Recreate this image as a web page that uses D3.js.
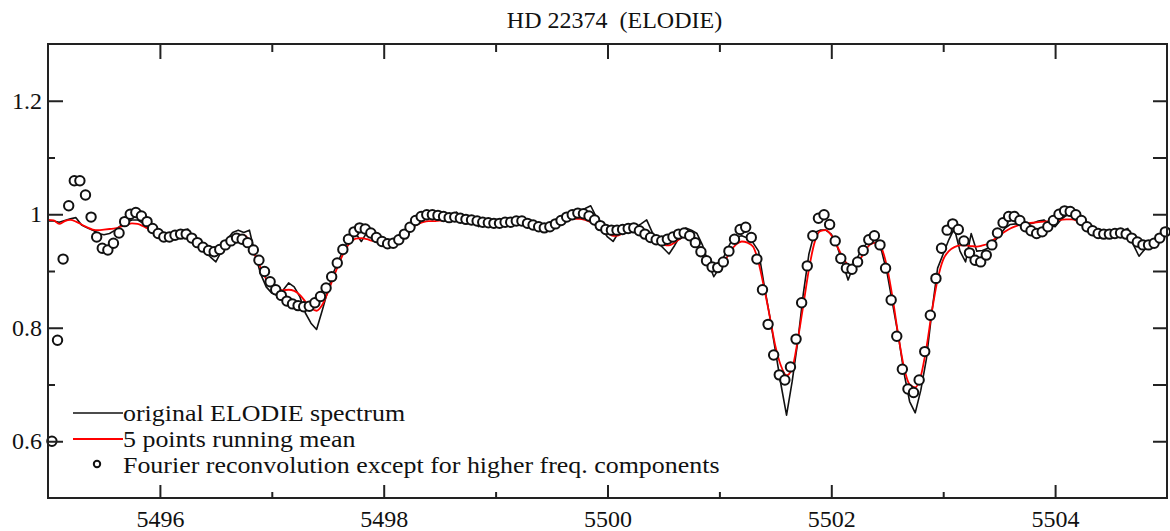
<!DOCTYPE html>
<html>
<head>
<meta charset="utf-8">
<script src="https://cdn.jsdelivr.net/npm/d3@7"></script>
<style>
  html, body { margin: 0; padding: 0; background: #fff; }
  svg text { font-family: "Liberation Serif", "Times New Roman", serif; fill: #111; }
</style>
</head>
<body>
<div id="chart"></div>
<script>
// spectrum sampled every 0.05 A
const lineStart = 5495.0;
const circleStart = 5495.035;
const step = 0.05;

// original ELODIE spectrum
const originalFlux = [
  0.988,0.988,0.986,0.989,0.992,0.994,0.981,0.976,0.972,0.966,
  0.964,0.966,0.972,0.980,0.986,0.990,0.990,0.984,0.976,0.968,
  0.964,0.962,0.962,0.964,0.968,0.974,0.955,0.945,0.935,0.925,
  0.916,0.935,0.955,0.968,0.972,0.968,0.972,0.930,0.895,0.872,
  0.861,0.857,0.866,0.879,0.872,0.855,0.826,0.808,0.797,0.830,
  0.865,0.897,0.920,0.942,0.958,0.966,0.952,0.968,0.962,0.955,
  0.950,0.948,0.951,0.958,0.969,0.981,0.991,0.997,0.998,0.998,
  0.997,0.995,0.994,1.004,0.992,0.990,0.988,0.978,0.986,0.984,
  0.984,0.985,0.986,0.990,0.988,0.986,0.982,0.979,0.976,0.977,
  0.981,0.987,0.993,0.998,1.001,1.003,1.010,1.015,0.995,0.975,
  0.960,0.952,0.968,0.973,0.976,0.977,0.983,0.990,0.968,0.950,
  0.940,0.930,0.945,0.962,0.976,0.972,0.966,0.945,0.915,0.890,
  0.905,0.930,0.950,0.960,0.962,0.958,0.950,0.935,0.875,0.820,
  0.760,0.700,0.646,0.705,0.775,0.860,0.930,0.968,0.972,0.972,
  0.965,0.945,0.915,0.884,0.910,0.930,0.945,0.955,0.955,0.935,
  0.895,0.840,0.785,0.720,0.670,0.650,0.690,0.745,0.830,0.905,
  0.930,0.955,0.975,0.935,0.916,0.966,0.935,0.936,0.940,0.950,
  0.962,0.975,0.982,0.983,0.983,0.982,0.984,0.988,0.990,0.982,
  0.978,0.990,0.998,1.000,0.993,0.984,0.976,0.970,0.967,0.966,
  0.966,0.967,0.970,0.975,0.946,0.926,0.938,0.948,0.955,0.965,0.976
];

// 5 points running mean
const meanFlux = [
  0.990,0.989,0.983,0.988,0.990,0.987,0.982,0.977,0.973,0.972,
  0.973,0.974,0.975,0.978,0.981,0.984,0.983,0.979,0.974,0.970,
  0.966,0.962,0.960,0.961,0.963,0.961,0.954,0.946,0.937,0.930,
  0.930,0.940,0.951,0.959,0.964,0.963,0.953,0.928,0.906,0.886,
  0.874,0.868,0.866,0.867,0.865,0.858,0.846,0.835,0.830,0.840,
  0.862,0.888,0.913,0.935,0.950,0.957,0.958,0.956,0.953,0.951,
  0.949,0.950,0.954,0.960,0.968,0.976,0.982,0.986,0.988,0.988,
  0.989,0.989,0.989,0.989,0.989,0.988,0.987,0.986,0.985,0.985,
  0.985,0.985,0.985,0.985,0.985,0.984,0.982,0.980,0.979,0.979,
  0.981,0.984,0.987,0.990,0.992,0.992,0.990,0.986,0.980,0.975,
  0.968,0.962,0.963,0.968,0.973,0.974,0.972,0.968,0.962,0.955,
  0.947,0.945,0.950,0.957,0.962,0.957,0.947,0.930,0.913,0.901,
  0.903,0.918,0.935,0.947,0.952,0.950,0.943,0.915,0.870,0.820,
  0.768,0.733,0.716,0.728,0.778,0.840,0.903,0.950,0.970,0.972,
  0.963,0.945,0.925,0.911,0.908,0.918,0.935,0.947,0.950,0.940,
  0.905,0.850,0.785,0.730,0.700,0.695,0.715,0.765,0.830,0.885,
  0.920,0.935,0.942,0.945,0.945,0.944,0.943,0.945,0.948,0.955,
  0.962,0.969,0.975,0.979,0.982,0.984,0.985,0.986,0.987,0.988,
  0.989,0.990,0.991,0.991,0.988,0.983,0.977,0.972,0.968,0.967,
  0.967,0.967,0.966,0.962,0.957,0.952,0.950,0.952,0.957,0.964,0.972
];

// Fourier reconvolution except for higher freq. components
const fourierFlux = [
  0.600,0.778,0.921,1.015,1.059,1.059,1.034,0.995,0.960,0.940,
  0.937,0.949,0.967,0.987,1.000,1.003,0.997,0.987,0.975,0.966,
  0.960,0.960,0.963,0.965,0.965,0.958,0.950,0.942,0.936,0.934,
  0.938,0.946,0.953,0.958,0.956,0.950,0.937,0.919,0.899,0.881,
  0.867,0.857,0.847,0.842,0.839,0.837,0.838,0.844,0.855,0.870,
  0.890,0.914,0.938,0.956,0.969,0.976,0.974,0.967,0.959,0.952,
  0.948,0.949,0.955,0.965,0.977,0.989,0.996,0.999,0.999,0.998,
  0.996,0.994,0.995,0.993,0.991,0.990,0.988,0.986,0.985,0.984,
  0.984,0.986,0.986,0.988,0.988,0.984,0.981,0.978,0.976,0.978,
  0.983,0.989,0.995,0.999,1.002,1.001,0.997,0.990,0.980,0.973,
  0.972,0.972,0.973,0.975,0.976,0.971,0.965,0.959,0.955,0.953,
  0.956,0.960,0.965,0.967,0.962,0.950,0.934,0.918,0.907,0.906,
  0.916,0.935,0.956,0.973,0.977,0.959,0.921,0.867,0.806,0.752,
  0.717,0.708,0.731,0.780,0.844,0.909,0.962,0.993,0.999,0.982,
  0.953,0.922,0.905,0.903,0.916,0.936,0.955,0.962,0.946,0.905,
  0.849,0.785,0.727,0.692,0.686,0.708,0.758,0.822,0.887,0.940,
  0.972,0.983,0.973,0.953,0.932,0.919,0.916,0.928,0.946,0.967,
  0.985,0.996,0.996,0.989,0.978,0.971,0.966,0.969,0.978,0.989,
  1.000,1.006,1.005,0.999,0.989,0.978,0.971,0.966,0.965,0.965,
  0.966,0.967,0.965,0.958,0.951,0.946,0.946,0.949,0.958,0.969
];

const xMajor = [5496, 5498, 5500, 5502, 5504];
const xMinor = [5497, 5499, 5501, 5503];
const yMajor = [0.6, 0.8, 1, 1.2];
const yMinor = [0.7, 0.9, 1.1];
const yRight = [0.6, 0.7, 0.8, 0.9, 1, 1.1, 1.2];

const title = "HD 22374  (ELODIE)";
const legendLabels = [
  "original ELODIE spectrum",
  "5 points running mean",
  "Fourier reconvolution except for higher freq. components"
];

const width = 1170, height = 531;
const margin = { top: 44, right: 3, bottom: 33, left: 48 };

const svg = d3.select("#chart").append("svg")
  .attr("width", width)
  .attr("height", height);

const x = d3.scaleLinear().domain([5495, 5505]).range([margin.left, width - margin.right]);
const y = d3.scaleLinear().domain([0.5, 1.3]).range([height - margin.bottom, margin.top]);

const lineData = (vals, start) => vals.map((v, i) => ({ w: start + i * step, f: v }));

const line = d3.line().x(d => x(d.w)).y(d => y(d.f));

// clip lines to plot box
svg.append("clipPath").attr("id", "plot")
  .append("rect")
  .attr("x", x(5495)).attr("y", y(1.3))
  .attr("width", x(5505) - x(5495)).attr("height", y(0.5) - y(1.3));

const plot = svg.append("g");

plot.append("path")
  .datum(lineData(originalFlux, lineStart))
  .attr("clip-path", "url(#plot)")
  .attr("fill", "none")
  .attr("stroke", "#111")
  .attr("stroke-width", 1.6)
  .attr("stroke-linejoin", "round")
  .attr("d", line);

plot.append("path")
  .datum(lineData(meanFlux, lineStart))
  .attr("clip-path", "url(#plot)")
  .attr("fill", "none")
  .attr("stroke", "#f00")
  .attr("stroke-width", 1.8)
  .attr("d", line.curve(d3.curveMonotoneX));

plot.selectAll("circle.fourier")
  .data(lineData(fourierFlux, circleStart))
  .enter()
  .append("circle")
  .attr("class", "fourier")
  .attr("cx", d => x(d.w))
  .attr("cy", d => y(d.f))
  .attr("r", 4.7)
  .attr("fill", "#fff")
  .attr("stroke", "#111")
  .attr("stroke-width", 2);

// axes
const axisStyle = g => {
  g.select(".domain").remove();
  g.selectAll(".tick line").attr("stroke", "#222").attr("stroke-width", 2);
  g.selectAll(".tick text").attr("fill", "#111").style("font-size", "24px")
    .style("font-family", "'Liberation Serif', 'Times New Roman', serif");
};

const bottom = height - margin.bottom;
svg.append("g").attr("transform", `translate(0,${bottom})`)
  .call(d3.axisBottom(x).tickValues(xMajor).tickSize(-13).tickPadding(12).tickFormat(d3.format("d")))
  .call(axisStyle);
svg.append("g").attr("transform", `translate(0,${bottom})`)
  .call(d3.axisBottom(x).tickValues(xMinor).tickSize(-6).tickFormat(""))
  .call(axisStyle);

svg.append("g").attr("transform", `translate(0,${margin.top})`)
  .call(d3.axisTop(x).tickValues(xMajor).tickSize(-15).tickFormat(""))
  .call(axisStyle);
svg.append("g").attr("transform", `translate(0,${margin.top})`)
  .call(d3.axisTop(x).tickValues(xMinor).tickSize(-8).tickFormat(""))
  .call(axisStyle);

svg.append("g").attr("transform", `translate(${margin.left},0)`)
  .call(d3.axisLeft(y).tickValues(yMajor).tickSize(-15).tickPadding(6).tickFormat(d => String(d)))
  .call(axisStyle);
svg.append("g").attr("transform", `translate(${margin.left},0)`)
  .call(d3.axisLeft(y).tickValues(yMinor).tickSize(-7).tickFormat(""))
  .call(axisStyle);

svg.append("g").attr("transform", `translate(${width - margin.right},0)`)
  .call(d3.axisRight(y).tickValues(yRight).tickSize(-14).tickFormat(""))
  .call(axisStyle);

// frame
svg.append("rect")
  .attr("x", x(5495)).attr("y", y(1.3))
  .attr("width", x(5505) - x(5495)).attr("height", y(0.5) - y(1.3))
  .attr("fill", "none")
  .attr("stroke", "#222")
  .attr("stroke-width", 2);

// title
svg.append("text")
  .attr("x", (x(5495) + x(5505)) / 2 + 7)
  .attr("y", 28)
  .attr("text-anchor", "middle")
  .style("font-size", "24px")
  .style("white-space", "pre")
  .text(title);

// legend (text in the source is a bit wider than the font)
const legend = svg.append("g").attr("transform", "translate(73,413)");
const rowH = 26;

legend.append("line")
  .attr("x1", 0).attr("x2", 50).attr("y1", 0).attr("y2", 0)
  .attr("stroke", "#111").attr("stroke-width", 1.6);
legend.append("line")
  .attr("x1", 0).attr("x2", 50).attr("y1", rowH).attr("y2", rowH)
  .attr("stroke", "#f00").attr("stroke-width", 1.8);
legend.append("circle")
  .attr("cx", 24).attr("cy", rowH * 2 - 1).attr("r", 3.2)
  .attr("fill", "#fff").attr("stroke", "#111").attr("stroke-width", 2);

legend.selectAll("text.lab")
  .data(legendLabels)
  .enter()
  .append("text")
  .attr("class", "lab")
  .attr("transform", (d, i) => `translate(50,${i * rowH + 8}) scale(1.08,1)`)
  .style("font-size", "24px")
  .text(d => d);
</script>
</body>
</html>
